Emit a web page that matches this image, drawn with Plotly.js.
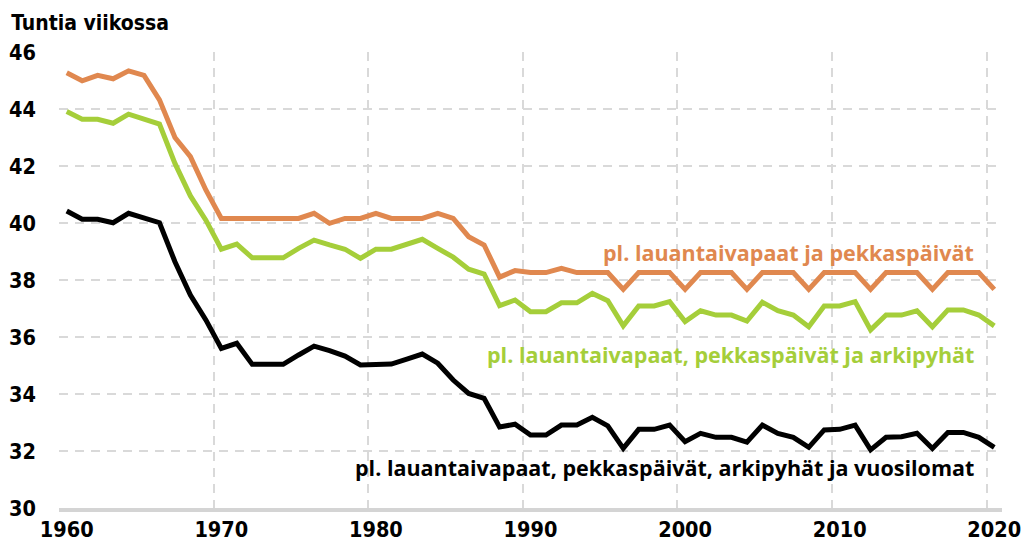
<!DOCTYPE html>
<html>
<head>
<meta charset="utf-8">
<script src="https://cdn.plot.ly/plotly-3.0.1.min.js"></script>
<style>html,body{margin:0;padding:0;background:#fff;}#chart{width:1022px;height:548px;}</style>
</head>
<body>
<div id="chart"></div>
<script>
const years = ["1960","1961","1962","1963","1964","1965","1966","1967","1968","1969",
"1970","1971","1972","1973","1974","1975","1976","1977","1978","1979",
"1980","1981","1982","1983","1984","1985","1986","1987","1988","1989",
"1990","1991","1992","1993","1994","1995","1996","1997","1998","1999",
"2000","2001","2002","2003","2004","2005","2006","2007","2008","2009",
"2010","2011","2012","2013","2014","2015","2016","2017","2018","2019","2020"];

const seriesNames = [
  "pl. lauantaivapaat ja pekkaspäivät",
  "pl. lauantaivapaat, pekkaspäivät ja arkipyhät",
  "pl. lauantaivapaat, pekkaspäivät, arkipyhät ja vuosilomat"
];

const orange = [45.27,44.99,45.18,45.06,45.34,45.18,44.32,43.00,42.33,41.16,
40.16,40.16,40.16,40.16,40.16,40.16,40.34,39.99,40.16,40.16,
40.34,40.16,40.16,40.16,40.34,40.16,39.52,39.23,38.10,38.33,
38.26,38.26,38.41,38.26,38.26,38.26,37.67,38.26,38.26,38.26,
37.67,38.26,38.26,38.26,37.67,38.26,38.26,38.26,37.67,38.26,
38.26,38.26,37.67,38.26,38.26,38.26,37.67,38.26,38.26,38.26,37.67];

const green = [43.91,43.64,43.64,43.50,43.82,43.66,43.47,42.09,40.95,40.10,
39.08,39.26,38.78,38.78,38.78,39.11,39.40,39.23,39.08,38.76,
39.08,39.08,39.26,39.43,39.11,38.80,38.38,38.21,37.10,37.30,
36.89,36.89,37.20,37.20,37.53,37.27,36.39,37.09,37.09,37.24,
36.54,36.92,36.77,36.77,36.56,37.22,36.92,36.77,36.36,37.09,
37.09,37.24,36.25,36.77,36.77,36.92,36.36,36.95,36.95,36.77,36.39];

const black = [40.42,40.13,40.13,40.01,40.34,40.17,40.01,38.64,37.47,36.60,
35.60,35.78,35.04,35.04,35.04,35.37,35.68,35.52,35.33,35.02,
35.05,35.05,35.22,35.40,35.08,34.49,34.02,33.85,32.84,32.94,
32.56,32.56,32.91,32.91,33.18,32.88,32.09,32.76,32.76,32.91,
32.33,32.62,32.48,32.48,32.31,32.91,32.62,32.48,32.13,32.74,
32.76,32.91,32.04,32.48,32.50,32.62,32.09,32.65,32.65,32.48,32.13];

const xTickLabels = ["1960","1970","1980","1990","2000","2010","2020"];
const yTickVals = [30,32,34,36,38,40,42,44,46];

const colors = ["#E0884F", "#A5CE3A", "#000000"];
const allSeries = [orange, green, black];
const labelY = [38.95, 35.37, 31.42];

const tickFamily = "'DejaVu Sans Condensed', 'DejaVu Sans', sans-serif";
const tickFont = {family: tickFamily, size: 21.5, color: "#000", weight: 700};
const annFontFamily = "'Open Sans', Lato, sans-serif";

const traces = allSeries.map((s, i) => ({
  x: years, y: s, type: "scatter", mode: "lines", name: seriesNames[i],
  line: {color: colors[i], width: 5, shape: "linear"},
  hoverinfo: "x+y"
}));

const annotations = seriesNames.map((n, i) => ({
  xref: "paper", yref: "y", x: 0.972, y: labelY[i], xanchor: "right", yanchor: "middle",
  text: "<b>" + n + "</b>", showarrow: false,
  font: {family: annFontFamily, size: 21.5, color: colors[i]}
}));

const layout = {
  width: 1022, height: 548,
  margin: {l: 59, r: 20, t: 52, b: 40},
  paper_bgcolor: "#fff", plot_bgcolor: "#fff",
  showlegend: false,
  title: {text: "<b>Tuntia viikossa</b>", x: 0.011, xanchor: "left", xref: "container", y: 0.958, yanchor: "middle", yref: "container",
    font: {family: tickFamily, size: 21, color: "#000"}},
  xaxis: {
    type: "category", range: [-0.5, 60.5],
    tickmode: "array", tickvals: xTickLabels, ticktext: xTickLabels,
    tickson: "boundaries",
    showgrid: true, gridcolor: "#d9d9d9", gridwidth: 2, griddash: "9px,7px",
    showline: true, linecolor: "#d4d4d4", linewidth: 4,
    ticks: "", ticklen: 0,
    tickfont: tickFont, tickangle: 0,
    ticklabelstandoff: -1,
    zeroline: false, fixedrange: true
  },
  yaxis: {
    range: [30, 46], tickvals: yTickVals, ticktext: yTickVals.map(String),
    showgrid: true, gridcolor: "#d9d9d9", gridwidth: 2, griddash: "9px,7px",
    showline: false, zeroline: false, ticks: "",
    tickfont: tickFont, ticklabelstandoff: 22, fixedrange: true
  },
  annotations: annotations
};

Plotly.newPlot("chart", traces, layout, {displayModeBar: false, staticPlot: true});
</script>
</body>
</html>
